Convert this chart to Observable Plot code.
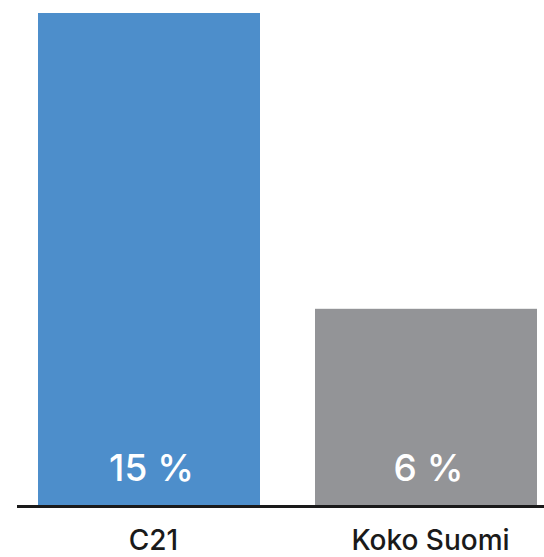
<!DOCTYPE html>
<html>
<head>
<meta charset="utf-8">
<script src="https://cdn.jsdelivr.net/npm/d3@7"></script>
<script src="https://cdn.jsdelivr.net/npm/@observablehq/plot@0.6"></script>
<style>
  html, body { margin: 0; padding: 0; background: #fff; }
  svg { display: block; }
</style>
</head>
<body>
<div id="chart"></div>
<script>
const categories = ["C21", "Koko Suomi"];
const values = [15, 6];
const colors = ["#4d8ecb", "#939497"];

const data = categories.map((c, i) => ({category: c, value: values[i], color: colors[i], label: `${values[i]} %`}));

const chart = Plot.plot({
  width: 544,
  height: 557,
  marginTop: 13,
  marginBottom: 51,
  marginLeft: 38,
  marginRight: 7,
  style: {fontFamily: "Inter, 'Liberation Sans', sans-serif", background: "#fff"},
  x: {domain: categories, paddingInner: 0.2, paddingOuter: 0, label: null},
  y: {domain: [0, 15], axis: null},
  marks: [
    Plot.barY(data, {x: "category", y: "value", fill: "color"}),
    Plot.ruleY([0], {stroke: "#1a1a1a", strokeWidth: 3, insetLeft: -21, insetRight: -7}),
    Plot.text(data, {x: "category", y: 0, text: "label", fill: "white", fontSize: 37, fontWeight: 500, dy: -37, dx: 2}),
    Plot.axisX({tickSize: 0, tickPadding: 24, fontSize: 28, fontWeight: 500, color: "#1a1a1a", dx: 4, label: null})
  ]
});
document.getElementById("chart").appendChild(chart);
</script>
</body>
</html>
